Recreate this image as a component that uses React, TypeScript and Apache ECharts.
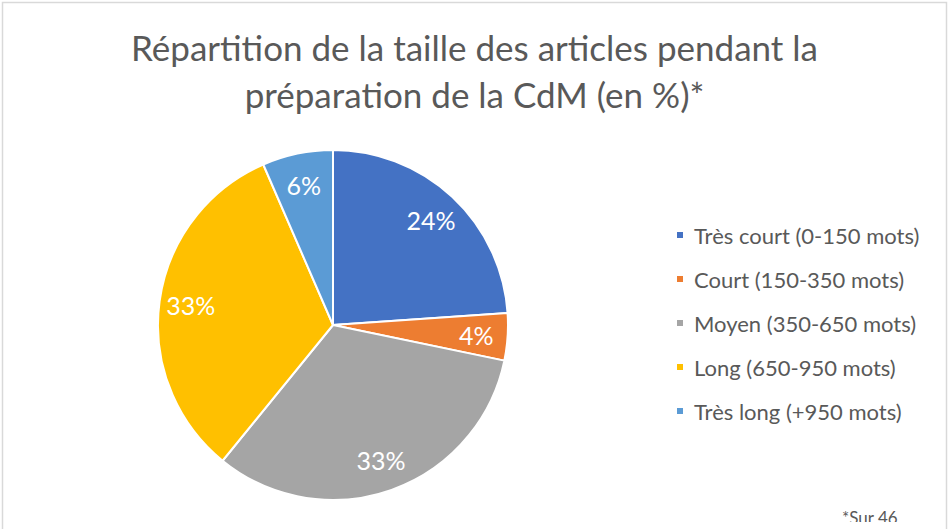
import React, { useEffect, useRef } from "react";
import * as echarts from "echarts";

const TITLE_LINES = ["Répartition de la taille des articles pendant la", "préparation de la CdM (en %)*"];
const categories = [
  "Très court (0-150 mots)",
  "Court (150-350 mots)",
  "Moyen (350-650 mots)",
  "Long (650-950 mots)",
  "Très long (+950 mots)",
];
// counts of articles (sur 46)
const counts = [11, 2, 15, 15, 3];
const colors = ["#4472C4", "#ED7D31", "#A5A5A5", "#FFC000", "#5B9BD5"];
const FOOTNOTE = "*Sur 46";

const FONT = "Lato, 'Liberation Sans', sans-serif";

export default function App() {
  const ref = useRef<HTMLDivElement>(null);
  useEffect(() => {
    if (!ref.current) return;
    const chart = echarts.init(ref.current, undefined, { renderer: "svg" });
    const data = categories.map((name, i) => ({ name, value: counts[i], itemStyle: { color: colors[i] } }));
    chart.setOption({
      animation: false,
      backgroundColor: "#ffffff",
      textStyle: { fontFamily: FONT },
      title: {
        text: TITLE_LINES.join("\n"),
        left: "center",
        top: 18,
        textStyle: { fontFamily: FONT, fontSize: 35, fontWeight: "normal", color: "#595959", lineHeight: 47 },
      },
      legend: {
        orient: "vertical",
        left: 670,
        top: 217,
        icon: "rect",
        itemWidth: 8,
        itemHeight: 8,
        itemGap: 18,
        data: categories,
        textStyle: { fontFamily: FONT, fontSize: 22, color: "#595959", lineHeight: 26, padding: [0, 0, 0, 5] },
      },
      series: [
        {
          type: "pie",
          center: [333, 325],
          radius: [0, 175],
          startAngle: 90,
          clockwise: true,
          percentPrecision: 0,
          label: { show: false },
          labelLine: { show: false },
          itemStyle: { borderColor: "#ffffff", borderWidth: 2 },
          emphasis: { disabled: true },
          data,
        },
        {
          type: "pie",
          center: [333, 325],
          radius: [106, 175],
          startAngle: 90,
          clockwise: true,
          percentPrecision: 0,
          silent: true,
          legendHoverLink: false,
          itemStyle: { color: "rgba(0,0,0,0)", borderWidth: 0 },
          label: {
            show: true,
            position: "inside",
            formatter: "{d}%",
            fontFamily: FONT,
            fontSize: 25,
            color: "#ffffff",
          },
          labelLine: { show: false },
          emphasis: { disabled: true },
          data: categories.map((name, i) => ({ name, value: counts[i] })),
        },
      ],
      graphic: [
        {
          type: "rect",
          shape: { x: 2.5, y: 2.5, width: 944, height: 560 },
          style: { fill: "none", stroke: "#D9D9D9", lineWidth: 1.5 },
          silent: true,
        },
        {
          type: "text",
          x: 842,
          y: 509,
          style: { text: FOOTNOTE, fontFamily: FONT, fontSize: 17, fill: "#595959" },
          silent: true,
        },
        {
          type: "rect",
          shape: { x: 800, y: 522, width: 144, height: 10 },
          style: { fill: "#ffffff" },
          z: 200,
          silent: true,
        },
      ],
    });
    return () => chart.dispose();
  }, []);
  return (
    <div
      ref={ref}
      style={{ position: "fixed", left: 0, top: 0, width: 949, height: 529 }}
    />
  );
}
